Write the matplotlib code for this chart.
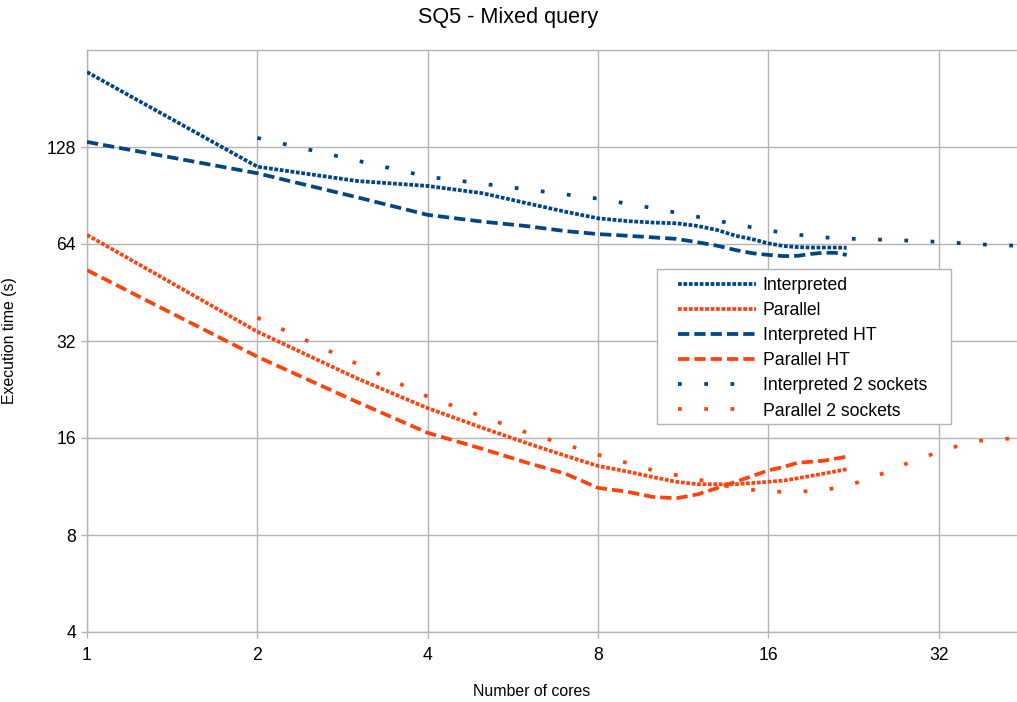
import matplotlib
matplotlib.use("Agg")
import matplotlib.pyplot as plt
from matplotlib.patches import Rectangle

plt.rcParams['font.family'] = ['Liberation Sans', 'DejaVu Sans']

BLUE = "#004586"
ORANGE = "#ff420e"
GRID = "#b3b3b3"

# single socket runs, 1..22 cores
cores = list(range(1, 23))
interpreted = [218.7, 111.2, 100.4, 96.9, 92.0, 85.6, 80.6, 76.9, 75.4, 74.6, 74.2,
               72.8, 70.7, 67.9, 66.2, 64.3, 63.1, 62.6, 62.4, 62.4, 62.4, 62.3]
parallel = [68.3, 34.2, 24.5, 19.8, 17.2, 15.4, 14.1, 13.1, 12.6, 12.1, 11.7,
            11.5, 11.5, 11.5, 11.6, 11.7, 11.8, 12.0, 12.2, 12.4, 12.6, 12.8]
interpreted_ht = [132.7, 106.1, 89.4, 78.8, 75.1, 72.7, 70.2, 68.7, 67.9, 67.1, 66.4,
                  64.8, 63.2, 61.3, 59.9, 59.2, 58.7, 58.8, 59.6, 60.1, 60.1, 59.2]
parallel_ht = [53.1, 28.6, 20.7, 16.6, 14.8, 13.4, 12.4, 11.2, 10.9, 10.5, 10.4,
               10.7, 11.2, 11.7, 12.2, 12.7, 13.0, 13.4, 13.5, 13.6, 13.8, 14.0]

# two socket runs, 2..44 cores
cores_2s = list(range(2, 45, 2))
interpreted_2s = [136.6, 103.5, 94.5, 88.5, 82.7, 77.7, 73.7, 70.5, 68.4, 67.1, 66.5,
                  66.2, 65.9, 65.6, 65.3, 65.0, 64.6, 64.2, 63.8, 63.6, 63.4, 63.2]
parallel_2s = [37.8, 21.5, 16.6, 14.2, 12.7, 11.9, 11.2, 10.9, 10.9, 11.0, 11.4,
               11.9, 12.6, 13.3, 13.9, 14.5, 15.0, 15.3, 15.7, 15.8, 15.9, 16.0]

x_ticks = [1, 2, 4, 8, 16, 32]
y_ticks = [4, 8, 16, 32, 64, 128]

W, H = 1017, 702
fig = plt.figure(figsize=(W / 100, H / 100), dpi=100)
ax = fig.add_axes([87 / W, (H - 632) / H, 930 / W, 582 / H])

lw = 2.7
dotted = (0, (1.0, 0.45))
dashed = (0, (3.0, 1.35))
sparse = (0, (1.0, 6.0))

series = [
    (cores, interpreted, BLUE, dotted, "Interpreted"),
    (cores, parallel, ORANGE, dotted, "Parallel"),
    (cores, interpreted_ht, BLUE, dashed, "Interpreted HT"),
    (cores, parallel_ht, ORANGE, dashed, "Parallel HT"),
    (cores_2s, interpreted_2s, BLUE, sparse, "Interpreted 2 sockets"),
    (cores_2s, parallel_2s, ORANGE, sparse, "Parallel 2 sockets"),
]
for xs, ys, col, ls, lab in series:
    ax.plot(xs, ys, color=col, linestyle=ls, linewidth=lw, dash_capstyle="butt",
            label=lab, zorder=3)

ax.set_xscale("log", base=2)
ax.set_yscale("log", base=2)
ax.set_xlim(1, 44)
ax.set_ylim(4, 256)
ax.set_xticks(x_ticks)
ax.set_xticklabels([str(t) for t in x_ticks])
ax.set_yticks(y_ticks)
ax.set_yticklabels([str(t) for t in y_ticks])
ax.minorticks_off()
ax.grid(True, color=GRID, linewidth=1.0, zorder=0)
ax.set_axisbelow(True)
for side in ["left", "bottom", "top"]:
    ax.spines[side].set_color(GRID)
    ax.spines[side].set_linewidth(1.0)
ax.spines["right"].set_visible(False)
ax.tick_params(axis="both", colors=GRID, labelcolor="black", labelsize=12.7,
               length=4, width=1.0, direction="out")
ax.tick_params(axis="y", pad=4)
ax.tick_params(axis="x", pad=7)

# legend box drawn separately (wide side padding)
box = Rectangle((657 / W, 1 - 424 / H), (951 - 657) / W, (424 - 269) / H,
                transform=fig.transFigure, facecolor="white", edgecolor=GRID,
                linewidth=1.0, zorder=4)
ax.add_patch(box)
box.set_clip_on(False)

leg = ax.legend(loc="upper left", bbox_to_anchor=(678 / W, 1 - 277 / H),
                bbox_transform=fig.transFigure, fontsize=12.7, handlelength=4.4,
                handletextpad=0.4, labelspacing=0.46, borderpad=0.0,
                frameon=False, borderaxespad=0)
leg.set_zorder(5)

fig.text(508 / W, 1 - 17 / H, "SQ5 - Mixed query", ha="center", va="center", fontsize=15.6)
fig.text(532 / W, 1 - 691 / H, "Number of cores", ha="center", va="center", fontsize=11.4)
fig.text(10 / W, 1 - 341 / H, "Execution time (s)", ha="center", va="center",
         rotation=90, fontsize=11.4)

fig.savefig("out.png", dpi=100)
